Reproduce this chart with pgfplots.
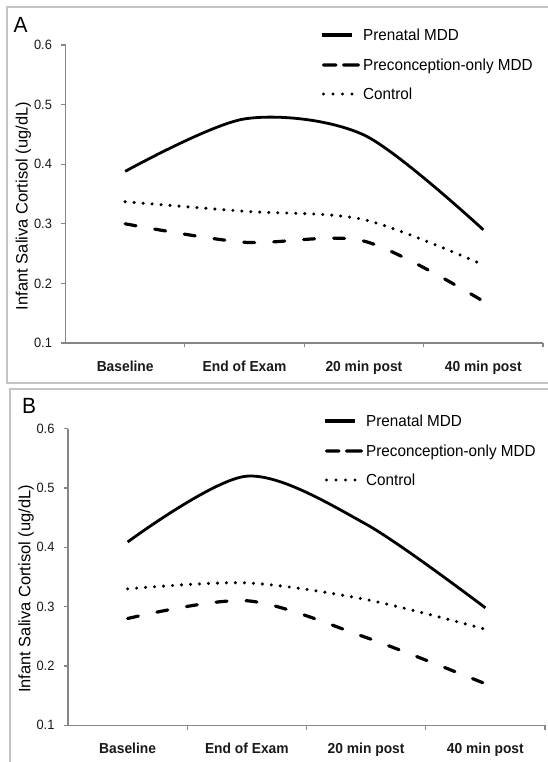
\documentclass[border=0pt]{standalone}
\usepackage{fontspec}
\setmainfont{Liberation Sans}[FakeStretch=0.953]
\newfontfamily\ylabfamily{Liberation Sans}
\usepackage{pgfplots}
\pgfplotsset{compat=1.18}

\definecolor{axisgray}{HTML}{868686}
\definecolor{framegray}{HTML}{C4C4C4}
\newcommand\tickfont{\fontsize{13.5bp}{16bp}\selectfont}
\newcommand\catfont{\fontsize{14.5bp}{17bp}\selectfont\bfseries}
\newcommand\legfont{\fontsize{16bp}{19bp}\selectfont}
\newcommand\ylabfont{\ylabfamily\fontsize{16.5bp}{19bp}\selectfont}
\newcommand\panelfont{\fontsize{22bp}{26bp}\selectfont}

\tikzset{
  prenatal/.style={black, line width=2.8bp, smooth},
  precon/.style={black, line width=3.2bp, line cap=round, dash pattern=on 11bp off 19bp, smooth},
  control/.style={black, line width=3.4bp, line cap=round, dash pattern=on 0bp off 9bp, smooth},
}

% key: #1,#2 = left end of the first sample, rows 30bp apart
\newcommand\keyblock[2]{%
  \fill[black] (#1bp,#2bp-1.7bp) rectangle ++(30bp,3.4bp);
  \fill[black, rounded corners=1.5bp] (#1bp,#2bp-30bp-1.6bp) rectangle ++(15.6bp,3.2bp);
  \fill[black, rounded corners=1.6bp] (#1bp+20bp,#2bp-30bp-1.7bp) rectangle ++(18bp,3.4bp);
  \foreach \d in {1.5,11,20.5,30} {\fill[black] (#1bp+\d bp,#2bp-59bp) circle (1.65bp);}
  \node[font=\legfont, anchor=base west, inner sep=0pt] at (#1bp+41bp,#2bp-5.6bp) {Prenatal MDD};
  \node[font=\legfont, anchor=base west, inner sep=0pt] at (#1bp+41bp,#2bp-35.6bp) {Preconception-only MDD};
  \node[font=\legfont, anchor=base west, inner sep=0pt] at (#1bp+41bp,#2bp-64.6bp) {Control};
}

\pgfplotsset{
  panel/.style={
    scale only axis, anchor=south west,
    xmin=0.5, xmax=4.5, ymin=0.1, ymax=0.6,
    axis x line*=bottom, axis y line*=left,
    axis line style={axisgray, line width=1.1bp},
    xtick={1,2,3,4},
    xticklabels={Baseline, End of Exam, 20 min post, 40 min post},
    minor xtick={1.5,2.5,3.5,4.5},
    every major x tick/.append style={draw=none},
    every minor x tick/.append style={axisgray, line width=1.1bp},
    minor tick length=4.5bp,
    ytick={0.1,0.2,0.3,0.4,0.5,0.6},
    ytick style={axisgray, line width=1.1bp},
    major tick length=4bp,
    tick align=outside,
    xticklabel style={font=\catfont, text=black!90, yshift=-10bp},
    yticklabel style={font=\tickfont, text=black!90, xshift=-6bp},
    /pgf/number format/fixed, /pgf/number format/fixed zerofill,
    /pgf/number format/precision=1, /pgf/number format/assume math mode=true,
    ylabel={Infant Saliva Cortisol (ug/dL)},
    every axis y label/.style={at={(axis description cs:-0.088,0.46)}, rotate=90, anchor=center, font=\ylabfont},
  },
}

\begin{document}
\begin{tikzpicture}
\path[use as bounding box] (0,0) rectangle (548bp,762bp);

% panel frames
\draw[framegray, line width=1.5bp] (548bp,755bp) -- (7bp,755bp) -- (7bp,379bp) -- (548bp,379bp);
\draw[framegray, line width=1.5bp] (10bp,0bp) -- (10bp,373bp) -- (548bp,373bp);

% ---- panel A
\begin{axis}[panel, at={(65.5bp,419bp)}, width=477.5bp, height=298bp]
\addplot[prenatal] coordinates {(1,0.388)(2,0.476)(3,0.449)(4,0.290)};
\addplot[precon]   coordinates {(1,0.300)(2,0.269)(3,0.271)(4,0.170)};
\addplot[control]  coordinates {(1,0.337)(2,0.321)(3,0.307)(4,0.231)};
\end{axis}
\node[font=\panelfont, anchor=base west, inner sep=0pt] at (13.5bp,729bp) {A};
\keyblock{322}{727}

% ---- panel B
\begin{axis}[panel, at={(68bp,36.7bp)}, width=477bp, height=296.6bp]
\addplot[prenatal] coordinates {(1,0.409)(2,0.520)(3,0.439)(4,0.298)};
\addplot[precon]   coordinates {(1,0.280)(2,0.310)(3,0.248)(4,0.170)};
\addplot[control]  coordinates {(1,0.330)(2,0.340)(3,0.312)(4,0.262)};
\end{axis}
\node[font=\panelfont, anchor=base west, inner sep=0pt] at (22bp,348bp) {B};
\keyblock{325}{341}
\end{tikzpicture}
\end{document}
